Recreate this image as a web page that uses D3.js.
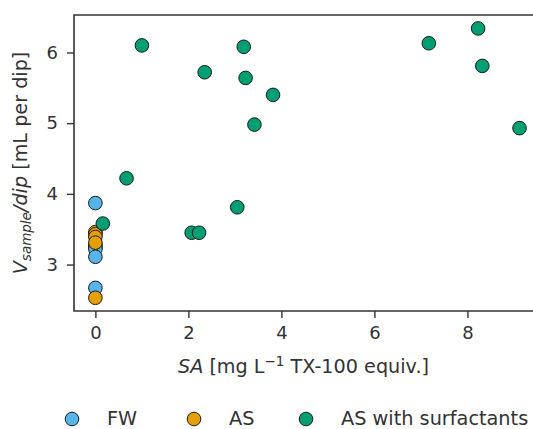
<!DOCTYPE html>
<html>
<head>
<meta charset="utf-8">
<script src="https://cdn.jsdelivr.net/npm/d3@7"></script>
<style>
  body { margin: 0; background: #fff; }
  svg { display: block; font-family: "DejaVu Sans", sans-serif; }
</style>
</head>
<body>
<svg id="chart" width="533" height="429"></svg>
<script>
// values
const fwSA = [0, 0, 0, 0, 0, 0];
const fwV = [3.87, 3.28, 3.25, 3.22, 3.11, 2.67];

const asSA = [0, 0, 0, 0, 0];
const asV = [3.46, 3.43, 3.39, 3.31, 2.53];

const surfSA = [1.0, 2.35, 3.19, 3.23, 3.42, 3.82, 0.67, 3.05, 7.17, 8.23, 8.32, 9.12, 2.07, 2.23, 0.16];
const surfV = [6.10, 5.72, 6.08, 5.64, 4.98, 5.40, 4.22, 3.81, 6.13, 6.34, 5.81, 4.93, 3.45, 3.45, 3.58];

const seriesNames = ["FW", "AS", "AS with surfactants"];
const seriesColors = ["#56B4E9", "#E69F00", "#009E73"];
const xTicks = [0, 2, 4, 6, 8];
const yTicks = [3, 4, 5, 6];

const svg = d3.select("#chart");
const plotLeft = 74, plotTop = 15, plotRight = 533, plotBottom = 311;
const textColor = "#333";

const x = d3.scaleLinear().domain([-0.46, 9.41]).range([plotLeft, plotRight]);
const y = d3.scaleLinear().domain([2.343, 6.53]).range([plotBottom, plotTop]);

// axes
const xAxis = svg.append("g")
    .attr("transform", `translate(0,${plotBottom})`)
    .call(d3.axisBottom(x).tickValues(xTicks).tickSize(7).tickPadding(8).tickFormat(d3.format("d")));
const yAxis = svg.append("g")
    .attr("transform", `translate(${plotLeft},0)`)
    .call(d3.axisLeft(y).tickValues(yTicks).tickSize(7).tickPadding(9).tickFormat(d3.format("d")));

[xAxis, yAxis].forEach(g => {
    g.select(".domain").remove();
    g.selectAll(".tick line").attr("stroke", textColor).attr("stroke-width", 1.4);
    g.selectAll(".tick text").attr("fill", textColor).style("font-size", "18px").style("font-family", "DejaVu Sans");
});

// spines: left, bottom, top (right is out of frame)
svg.append("path")
    .attr("d", `M${plotRight},${plotTop}H${plotLeft}V${plotBottom}H${plotRight}`)
    .attr("fill", "none")
    .attr("stroke", textColor)
    .attr("stroke-width", 1.6);

// points, plotted in series order
const groups = [
    fwSA.map((s, i) => ({ sa: s, v: fwV[i] })),
    asSA.map((s, i) => ({ sa: s, v: asV[i] })),
    surfSA.map((s, i) => ({ sa: s, v: surfV[i] }))
];

groups.forEach((pts, k) => {
    svg.append("g").selectAll("circle")
        .data(pts)
        .enter().append("circle")
        .attr("cx", d => x(d.sa))
        .attr("cy", d => y(d.v))
        .attr("r", 6.8)
        .attr("fill", seriesColors[k])
        .attr("stroke", "#1a1a1a")
        .attr("stroke-width", 1);
});

// x label
const xl = svg.append("text")
    .attr("x", (plotLeft + plotRight) / 2)
    .attr("y", 373)
    .attr("text-anchor", "middle")
    .attr("fill", textColor)
    .style("font-size", "19.2px");
xl.append("tspan").attr("font-style", "italic").text("SA");
xl.append("tspan").text(" [mg L");
xl.append("tspan").attr("dy", -7).style("font-size", "13.5px").text("\u22121");
xl.append("tspan").attr("dy", 7).text(" TX-100 equiv.]");

// y label
const yl = svg.append("text")
    .attr("transform", `translate(27,${(plotTop + plotBottom) / 2}) rotate(-90)`)
    .attr("text-anchor", "middle")
    .attr("fill", textColor)
    .style("font-size", "19.2px");
yl.append("tspan").attr("font-style", "italic").text("V");
yl.append("tspan").attr("font-style", "italic").attr("dy", 4).style("font-size", "13.5px").text("sample");
yl.append("tspan").attr("font-style", "italic").attr("dy", -4).text("/dip");
yl.append("tspan").text(" [mL per dip]");

// legend
const legX = [72, 194, 306];
const legend = svg.append("g");
seriesNames.forEach((name, i) => {
    legend.append("circle")
        .attr("cx", legX[i]).attr("cy", 419).attr("r", 6.8)
        .attr("fill", seriesColors[i]).attr("stroke", "#1a1a1a").attr("stroke-width", 1);
    legend.append("text")
        .attr("x", legX[i] + 35).attr("y", 424.5)
        .attr("fill", textColor)
        .style("font-size", "19.3px")
        .text(name);
});
</script>
</body>
</html>
